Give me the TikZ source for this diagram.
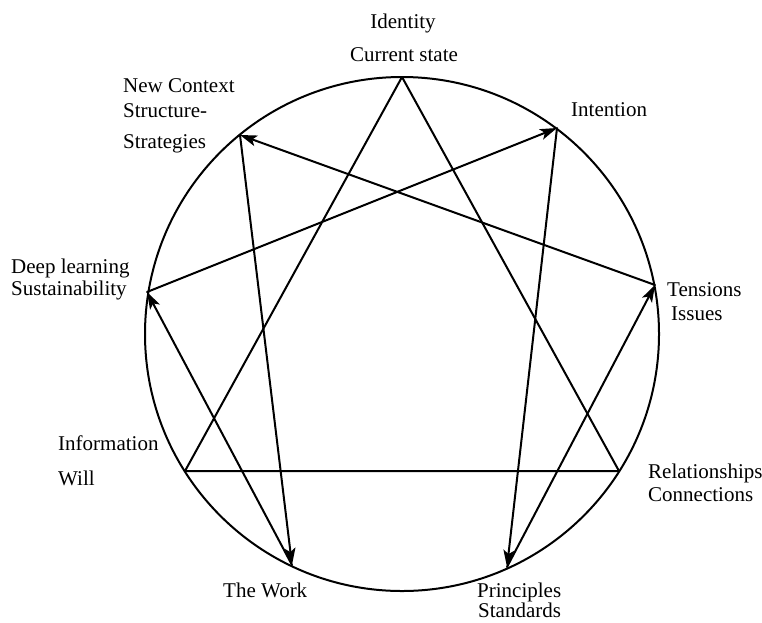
\documentclass[tikz,border=0pt]{standalone}
\usepackage{fontspec}
\setmainfont{Liberation Serif}
\usetikzlibrary{arrows.meta}
\begin{document}
\begin{tikzpicture}[x=1pt,y=-1pt,
  lbl/.style={anchor=base west,inner sep=0pt,font=\fontsize{21}{24}\selectfont},
  lblc/.style={anchor=base,inner sep=0pt,font=\fontsize{21}{24}\selectfont},
  edge/.style={line width=2pt,line cap=round,line join=round},
  arr/.style={edge,-{Stealth[length=17pt,width=11pt,inset=4pt]}}]
\useasboundingbox (0,0) rectangle (762,622);
\coordinate (ctr) at (402,334);
\coordinate (N) at (402,77);
\coordinate (I) at (557,128);
\coordinate (T) at (655,285);
\coordinate (R) at (619,471);
\coordinate (P) at (507,567);
\coordinate (W) at (292,565);
\coordinate (F) at (185,471);
\coordinate (D) at (147,292);
\coordinate (C) at (240,135);
\draw[edge] (ctr) circle (257pt);
\draw[edge] (N) -- (R) -- (F) -- cycle;
\draw[arr] (D) -- (I);
\draw[arr] (I) -- (P);
\draw[arr] (P) -- (T);
\draw[arr] (T) -- (C);
\draw[arr] (C) -- (W);
\draw[arr] (W) -- (D);
\node[lblc] (l1) at (403,28) {Identity};
\node[lblc] (l2) at (404,61) {Current state};
\node[lbl] (l3) at (123,92) {New Context};
\node[lbl] (l4) at (123,117) {Structure-};
\node[lbl] (l5) at (123,148) {Strategies};
\node[lbl] (l6) at (571,116) {Intention};
\node[lbl] (l7) at (11,273) {Deep learning};
\node[lbl] (l8) at (11,295) {Sustainability};
\node[lbl] (l9) at (667,296) {Tensions};
\node[lbl] (l10) at (671,320) {Issues};
\node[lbl] (l11) at (58,450) {Information};
\node[lbl] (l12) at (58,485) {Will};
\node[lbl] (l13) at (648,478) {Relationships};
\node[lbl] (l14) at (648,501) {Connections};
\node[lbl] (l15) at (223,597) {The Work};
\node[lbl] (l16) at (477,597) {Principles};
\node[lbl] (l17) at (478,617) {Standards};
\end{tikzpicture}
\end{document}
